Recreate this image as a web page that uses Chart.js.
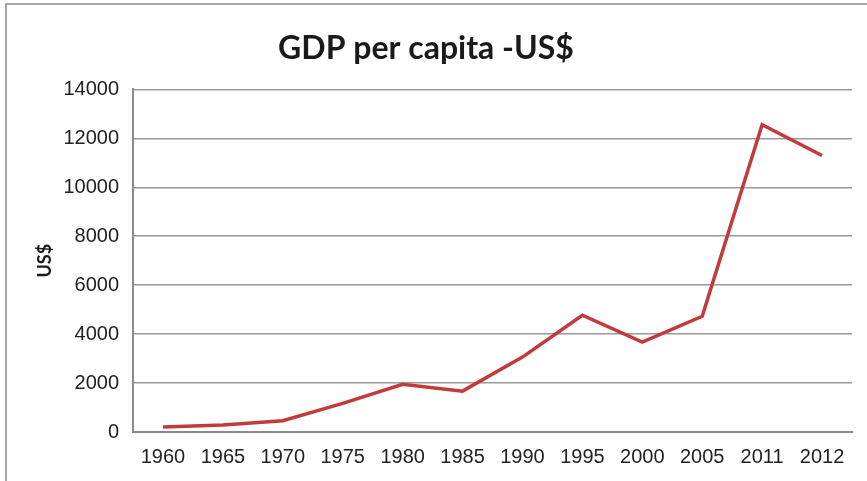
<!DOCTYPE html>
<html>
<head>
<meta charset="utf-8">
<script src="https://cdn.jsdelivr.net/npm/chart.js"></script>
<style>
  html, body { margin: 0; padding: 0; background: #fff; }
  #wrap { position: relative; width: 867px; height: 481px; }
</style>
</head>
<body>
<div id="wrap"><canvas id="chart" width="867" height="481"></canvas></div>
<script>
// GDP per capita, US$
const years = ['1960', '1965', '1970', '1975', '1980', '1985', '1990', '1995', '2000', '2005', '2011', '2012'];
const gdpPerCapita = [200, 290, 460, 1170, 1950, 1670, 3060, 4770, 3670, 4730, 12560, 11300];
const yTicks = [0, 2000, 4000, 6000, 8000, 10000, 12000, 14000];

// thin grey frame round the chart (left and top edges only are visible)
const framePlugin = {
    id: 'frame',
    beforeDraw(chart) {
        const ctx = chart.ctx;
        ctx.save();
        ctx.strokeStyle = '#8a8a8a';
        ctx.lineWidth = 1.5;
        ctx.beginPath();
        ctx.moveTo(6, chart.height);
        ctx.lineTo(6, 4);
        ctx.lineTo(chart.width, 4);
        ctx.stroke();
        ctx.restore();
    }
};

new Chart(document.getElementById('chart'), {
    type: 'line',
    data: {
        labels: years,
        datasets: [{
            label: 'GDP per capita',
            data: gdpPerCapita,
            borderColor: '#c23b3c',
            backgroundColor: '#c23b3c',
            borderWidth: 3.5,
            pointRadius: 0,
            tension: 0
        }]
    },
    options: {
        responsive: false,
        animation: false,
        layout: { padding: { left: 0, right: 15, top: 0, bottom: 0 } },
        plugins: {
            legend: { display: false },
            tooltip: { enabled: false },
            title: {
                display: true,
                text: 'GDP per capita -US$',
                color: '#1a1a1a',
                font: { family: 'Lato', size: 32, weight: 'bold' },
                padding: { top: 29, bottom: 22 }
            }
        },
        scales: {
            x: {
                offset: true,
                grid: { display: false, drawTicks: false },
                border: { display: true, color: '#8a8a8a', width: 2 },
                ticks: { color: '#222', font: { family: 'Liberation Sans', size: 20 }, padding: 13, maxRotation: 0, autoSkip: false },
                afterFit(scale) { scale.height = 49; }
            },
            y: {
                min: 0,
                max: 14000,
                afterBuildTicks(scale) { scale.ticks = yTicks.map(v => ({ value: v })); },
                grid: { color: '#9a9a9a', lineWidth: 1.5, drawTicks: false },
                border: { display: true, color: '#8a8a8a', width: 2 },
                ticks: {
                    color: '#222',
                    font: { family: 'Liberation Sans', size: 20 },
                    padding: 14,
                    callback: v => String(v)
                },
                title: {
                    display: true,
                    text: 'US$',
                    color: '#1a1a1a',
                    font: { family: 'Lato', size: 18, weight: 'bold' },
                    padding: { top: 34, bottom: 0 }
                },
                afterFit(scale) { scale.width = 133; }
            }
        }
    },
    plugins: [framePlugin]
});
</script>
</body>
</html>
